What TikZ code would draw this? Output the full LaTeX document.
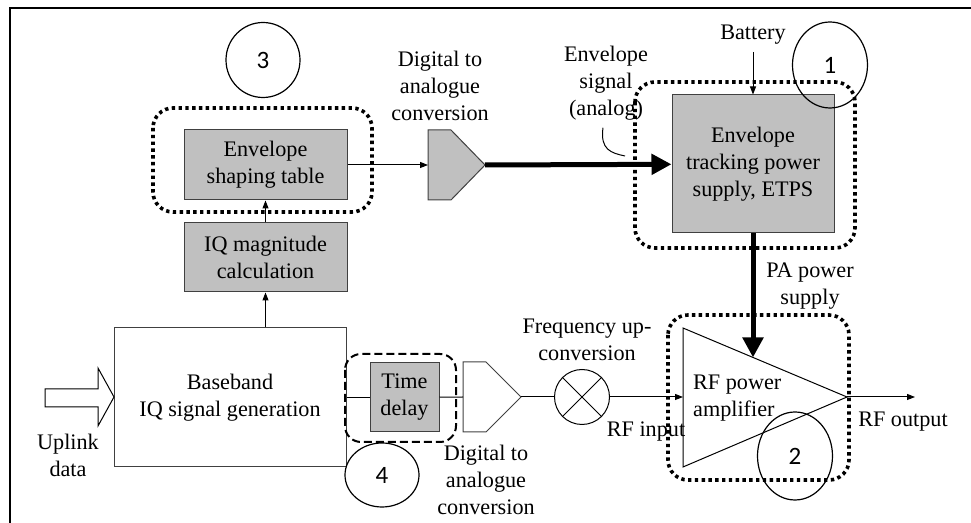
\documentclass[tikz,border=0pt]{standalone}
\usepackage{fontspec}
\setmainfont{Liberation Serif}
\newfontfamily\numfont{Carlito}
\usetikzlibrary{arrows.meta, shapes.geometric}
\definecolor{boxgrey}{HTML}{C0C0C0}
\tikzset{>={Triangle[length=4pt,width=3pt]}}
\tikzset{
  greybox/.style={draw=black!75, fill=boxgrey, inner sep=0pt},
  plainbox/.style={draw=black!75, fill=white, inner sep=0pt},
  bigarrow/.style={line width=2.5pt, -{Triangle[length=10pt,width=10pt]}},
  dotbox/.style={line width=1.8pt, dash pattern=on 1.7pt off 1.7pt, rounded corners=10pt},
  dashbox/.style={line width=1pt, dash pattern=on 4pt off 2pt, rounded corners=8pt},
  marker/.style={draw, ellipse, inner sep=0pt, line width=0.6pt, font=\numfont\fontsize{12.5}{15}\selectfont}
}

\begin{document}
\begin{tikzpicture}[x=0.5pt, y=-0.5pt, align=center, line width=0.5pt,
    font=\fontsize{11.1}{13.5}\selectfont]
  \useasboundingbox (0,0) rectangle (971,523);
  \draw[line width=1.3pt] (10,523) -- (10,8) -- (971,8);

  % blocks
  \node[greybox, minimum width=81.5pt, minimum height=35pt] (env_table) at (265.5,165) {Envelope\\shaping table};
  \node[greybox, minimum width=81.5pt, minimum height=34.5pt] (iq_mag) at (265.5,257.5) {IQ magnitude\\calculation};
  \node[plainbox, minimum width=116pt, minimum height=69.5pt] (baseband) at (230,397.5) {Baseband\\IQ signal generation};
  \node[greybox, minimum width=34.5pt, minimum height=34.5pt] (time_delay) at (404.5,397.5) {Time\\delay};
  \node[greybox, minimum width=81pt, minimum height=69pt] (etps) at (753,164) {Envelope\\tracking power\\supply, ETPS};

  % converters, mixer and amplifier
  \draw[fill=boxgrey, draw=black!75] (428,130) -- (451,130) -- (485,165) -- (451,200) -- (428,200) -- cycle;
  \coordinate (dac_top_in) at (428,165);
  \coordinate (dac_top_out) at (485,165);
  \draw[draw=black!75] (463,362) -- (486,362) -- (521,397) -- (486,432) -- (463,432) -- cycle;
  \coordinate (dac_low_in) at (463,397);
  \coordinate (dac_low_out) at (521,397);
  \node[draw, circle, minimum size=27.5pt, inner sep=0pt] (mixer) at (582,397) {};
  \draw (mixer.north west) -- (mixer.south east) (mixer.north east) -- (mixer.south west);
  \draw[fill=white] (683,328) -- (847,397) -- (683,467) -- cycle;
  \coordinate (pa_in) at (683,397);
  \coordinate (pa_out) at (847,397);
  \coordinate (pa_top) at (753,357.5);
  \coordinate (rf_out) at (915,397);
  \node[align=left, anchor=west] (pa_label) at (686,398) {RF power\\amplifier};
  \draw (45,389) -- (98,389) -- (98,368) -- (114,397) -- (98,426) -- (98,407) -- (45,407) -- cycle;

  % labels
  \node (uplink) at (68,455.5) {Uplink\\data};
  \node (dac_top_label) at (440,85.5) {Digital to\\analogue\\conversion};
  \node (env_signal) at (606,83.5) {Envelope\\signal\\(analog)};
  \node (battery) at (753,35) {Battery};
  \node (pa_supply) at (810,286.5) {PA power\\supply};
  \node (freq_up) at (587,339.5) {Frequency up-\\conversion};
  \node (rf_in) at (646,432) {RF input};
  \node (rf_out_label) at (903,422) {RF output};
  \node (dac_low_label) at (486,480) {Digital to\\analogue\\conversion};
  \coordinate (callout_end) at (625,156);

  % groups
  \draw[dotbox] (153,108) rectangle (372,212);
  \draw[dotbox] (635,82) rectangle (855,248);
  \draw[dotbox] (668,315) rectangle (849,480);
  \draw[dashbox] (345,354) rectangle (456,442);
  \node[marker, minimum width=37.5pt, minimum height=43pt] (mark_1) at (830,65) {1};
  \node[marker, minimum width=37.5pt, minimum height=44pt] (mark_2) at (795,456) {2};
  \node[marker, minimum width=37pt, minimum height=37.5pt] (mark_3) at (263,60) {3};
  \node[marker, minimum width=37pt, minimum height=32pt] (mark_4) at (382,475) {4};

  % connectors
  \draw[->] (iq_mag) -- (env_table);
  \draw[->] (iq_mag.south |- baseband.north) -- (iq_mag.south);
  \draw[->] (env_table) -- (dac_top_in);
  \draw[bigarrow] (dac_top_out) -- (etps);
  \draw[->] (battery) -- (etps);
  \draw[bigarrow] (etps) -- (pa_top);
  \draw (baseband) -- (time_delay);
  \draw (time_delay) -- (dac_low_in);
  \draw (dac_low_out) -- (mixer);
  \draw[->] (mixer) -- (pa_in);
  \draw[->] (pa_out) -- (rf_out);
  \draw ([xshift=-1.5pt]env_signal.south) .. controls +(-3,22) and +(-14,-3) .. (callout_end);
\end{tikzpicture}
\end{document}
